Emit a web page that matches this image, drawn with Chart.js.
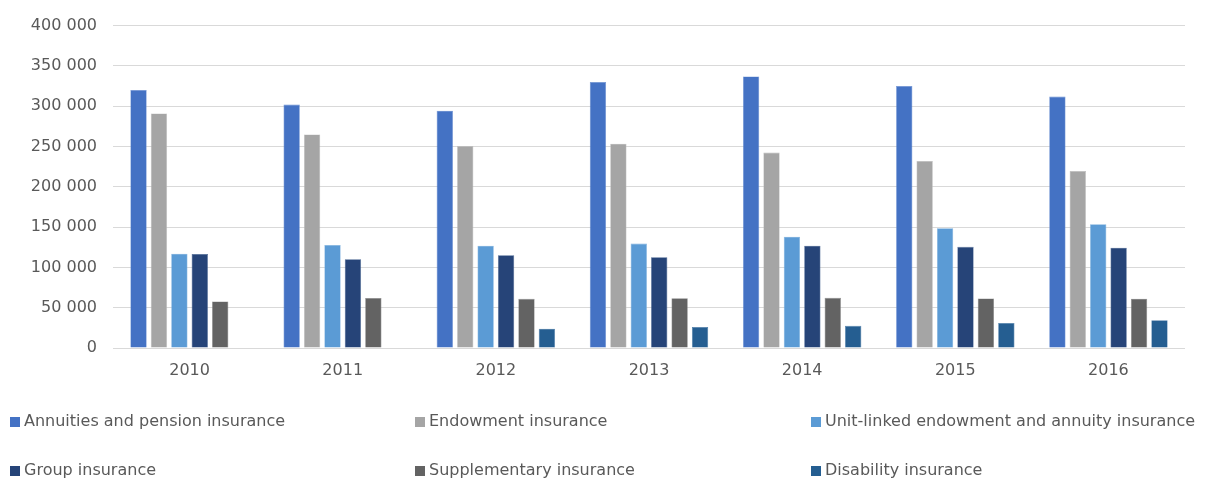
<!DOCTYPE html>
<html>
<head>
<meta charset="utf-8">
<script src="https://cdn.jsdelivr.net/npm/chart.js@4"></script>
<style>
html,body{margin:0;padding:0;background:#fff;}
#wrap{width:1207px;height:479px;position:relative;}
</style>
</head>
<body>
<div id="wrap"><canvas id="c" width="1207" height="479"></canvas></div>
<script>
const years = ['2010','2011','2012','2013','2014','2015','2016'];
const seriesNames = ['Annuities and pension insurance','Endowment insurance','Unit-linked endowment and annuity insurance','Group insurance','Supplementary insurance','Disability insurance'];
const annuities    = [320000, 302000, 294500, 330000, 337000, 325000, 312000];
const endowment    = [291000, 265000, 250500, 253500, 242500, 232000, 219500];
const unitLinked   = [117000, 127800, 127000, 129500, 138000, 148500, 153500];
const groupIns     = [116500, 110000, 115000, 112500, 127000, 125500, 124500];
const supplementary= [57800, 62000, 61000, 61800, 62200, 61400, 61200];
const disability   = [null, null, 24000, 26000, 27500, 31000, 34500];
const yTicks = [0, 50000, 100000, 150000, 200000, 250000, 300000, 350000, 400000];
const colors = ['#4472C4','#A5A5A5','#5B9BD5','#264478','#636363','#255E91'];
const edgeColors = ['#6A8FD2','#BDBDBD','#7FB1DE','#4A6592','#858585','#4B7CA8'];
const seriesData = [annuities, endowment, unitLinked, groupIns, supplementary, disability];

const FONT = '"DejaVu Sans", Verdana, sans-serif';
const FSIZE = 16;
const fmt = v => String(v).replace(/\B(?=(\d{3})+(?!\d))/g, ' ');

const legendPlugin = {
  id: 'gridLegend',
  afterDraw(chart) {
    const ctx = chart.ctx;
    const cols = [10, 415, 811];
    const rows = [422, 471];
    ctx.save();
    ctx.font = FSIZE + 'px ' + FONT;
    ctx.textBaseline = 'middle';
    ctx.textAlign = 'left';
    chart.data.datasets.forEach((ds, i) => {
      const x = cols[i % 3];
      const y = rows[Math.floor(i / 3)];
      ctx.fillStyle = ds.backgroundColor;
      ctx.fillRect(x, y - 5, 10, 10);
      ctx.fillStyle = '#595959';
      ctx.fillText(ds.label, x + 14, y);
    });
    ctx.restore();
  }
};

new Chart(document.getElementById('c'), {
  type: 'bar',
  data: {
    labels: years,
    datasets: seriesNames.map((n, i) => ({
      label: n,
      data: seriesData[i],
      backgroundColor: colors[i],
      borderColor: edgeColors[i],
      borderWidth: 0.6,
      categoryPercentage: 0.8,
      barPercentage: 0.8
    }))
  },
  options: {
    responsive: false,
    animation: false,
    devicePixelRatio: 1,
    layout: { padding: { top: 22, right: 22, bottom: 91, left: 0 } },
    plugins: { legend: { display: false }, tooltip: { enabled: false } },
    scales: {
      x: {
        grid: { display: false, drawTicks: false },
        border: { display: false },
        ticks: { color: '#595959', font: { family: FONT, size: FSIZE }, padding: 13 },
        afterFit: s => { s.height = 40; }
      },
      y: {
        min: 0, max: 400000,
        afterBuildTicks: s => { s.ticks = yTicks.map(v => ({ value: v })); },
        grid: { color: '#D9D9D9', lineWidth: 1, drawTicks: false },
        border: { display: false },
        ticks: { color: '#595959', font: { family: FONT, size: FSIZE }, padding: 16, callback: v => fmt(v) },
        afterFit: s => { s.width = 113; }
      }
    }
  },
  plugins: [legendPlugin]
});
</script>
</body>
</html>
